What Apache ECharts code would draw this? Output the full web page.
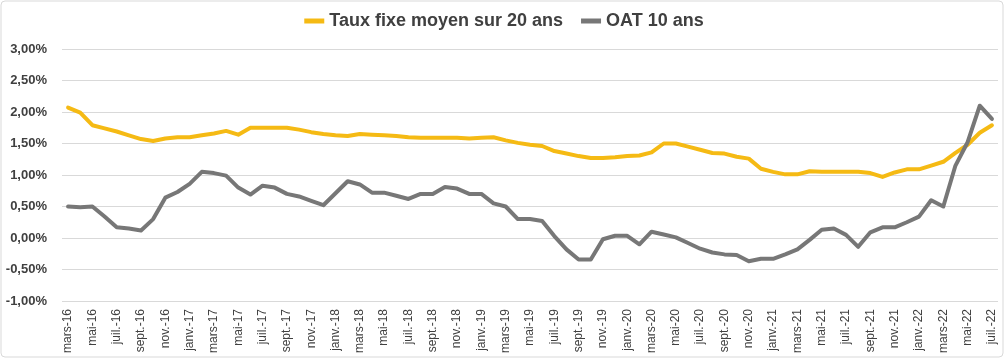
<!DOCTYPE html>
<html>
<head>
<meta charset="utf-8">
<script src="https://cdn.jsdelivr.net/npm/echarts@6/dist/echarts.min.js"></script>
<style>html,body{margin:0;padding:0;background:#fff}#c{width:1008px;height:360px}</style>
</head>
<body>
<div id="c"></div>
<script>
const categories = [
 "mars-16","avr.-16","mai-16","juin-16","juil.-16","août-16","sept.-16","oct.-16","nov.-16","déc.-16",
 "janv.-17","févr.-17","mars-17","avr.-17","mai-17","juin-17","juil.-17","août-17","sept.-17","oct.-17","nov.-17","déc.-17",
 "janv.-18","févr.-18","mars-18","avr.-18","mai-18","juin-18","juil.-18","août-18","sept.-18","oct.-18","nov.-18","déc.-18",
 "janv.-19","févr.-19","mars-19","avr.-19","mai-19","juin-19","juil.-19","août-19","sept.-19","oct.-19","nov.-19","déc.-19",
 "janv.-20","févr.-20","mars-20","avr.-20","mai-20","juin-20","juil.-20","août-20","sept.-20","oct.-20","nov.-20","déc.-20",
 "janv.-21","févr.-21","mars-21","avr.-21","mai-21","juin-21","juil.-21","août-21","sept.-21","oct.-21","nov.-21","déc.-21",
 "janv.-22","févr.-22","mars-22","avr.-22","mai-22","juin-22","juil.-22"
];
const tauxFixe20 = [
 2.07,1.99,1.79,1.74,1.69,1.63,1.57,1.54,1.58,1.60,
 1.60,1.63,1.66,1.70,1.64,1.75,1.75,1.75,1.75,1.72,1.68,1.65,
 1.63,1.62,1.65,1.64,1.63,1.62,1.60,1.59,1.59,1.59,1.59,1.58,
 1.59,1.60,1.55,1.51,1.48,1.46,1.38,1.34,1.30,1.27,1.27,1.28,
 1.30,1.31,1.36,1.50,1.50,1.45,1.40,1.35,1.34,1.29,1.26,1.10,
 1.05,1.01,1.01,1.06,1.05,1.05,1.05,1.05,1.03,0.97,1.04,1.09,
 1.09,1.15,1.21,1.35,1.48,1.67,1.79
];
const oat10 = [
 0.50,0.49,0.50,0.34,0.17,0.15,0.12,0.30,0.64,0.73,
 0.86,1.05,1.03,0.99,0.80,0.69,0.83,0.80,0.70,0.66,0.59,0.52,
 0.71,0.90,0.85,0.72,0.72,0.67,0.62,0.70,0.70,0.81,0.785,0.70,
 0.70,0.55,0.50,0.30,0.30,0.27,0.03,-0.18,-0.34,-0.34,-0.02,0.035,
 0.035,-0.10,0.10,0.055,0.01,-0.08,-0.17,-0.23,-0.26,-0.27,-0.37,-0.33,
 -0.33,-0.26,-0.18,-0.03,0.13,0.15,0.05,-0.14,0.09,0.17,0.17,0.25,
 0.34,0.60,0.50,1.15,1.52,2.10,1.89
];
const seriesNames = ["Taux fixe moyen sur 20 ans", "OAT 10 ans"];

const FONT = "'Liberation Sans Narrow', 'Liberation Sans', Arial, sans-serif";
const chart = echarts.init(document.getElementById('c'), null, {renderer: 'canvas'});
chart.setOption({
  animation: false,
  backgroundColor: '#ffffff',
  color: ['#F5BA14', '#777777'],
  graphic: [{
    type: 'rect', silent: true, z: -1,
    shape: {x: 1, y: 1, width: 1002, height: 356, r: 4},
    style: {fill: 'none', stroke: '#d9d9d9', lineWidth: 1}
  }],
  legend: {
    top: 7, left: 'center',
    itemWidth: 20, itemHeight: 5, itemGap: 18,
    icon: 'rect',
    textStyle: {fontFamily: FONT, fontWeight: 'bold', fontSize: 18, color: '#404040'},
    data: seriesNames
  },
  grid: {left: 62, right: 10, top: 49, bottom: 59, containLabel: false},
  xAxis: {
    type: 'category', data: categories, boundaryGap: true,
    axisLine: {show: false}, axisTick: {show: false},
    axisLabel: {interval: 1, rotate: 90, fontFamily: FONT, fontSize: 12, color: '#404040', margin: 8}
  },
  yAxis: {
    type: 'value', min: -1, max: 3, interval: 0.5,
    axisLine: {show: false}, axisTick: {show: false},
    splitLine: {lineStyle: {color: '#d9d9d9', width: 1}},
    axisLabel: {
      fontFamily: FONT, fontWeight: 'bold', fontSize: 13, color: '#404040', margin: 15,
      formatter: v => v.toFixed(2).replace('.', ',') + '%'
    }
  },
  series: [
    {name: seriesNames[0], type: 'line', data: tauxFixe20, showSymbol: false, symbol: 'none',
     lineStyle: {width: 4, color: '#F5BA14', join: 'round', cap: 'round'}},
    {name: seriesNames[1], type: 'line', data: oat10, showSymbol: false, symbol: 'none',
     lineStyle: {width: 4, color: '#777777', join: 'round', cap: 'round'}}
  ]
});
</script>
</body>
</html>
